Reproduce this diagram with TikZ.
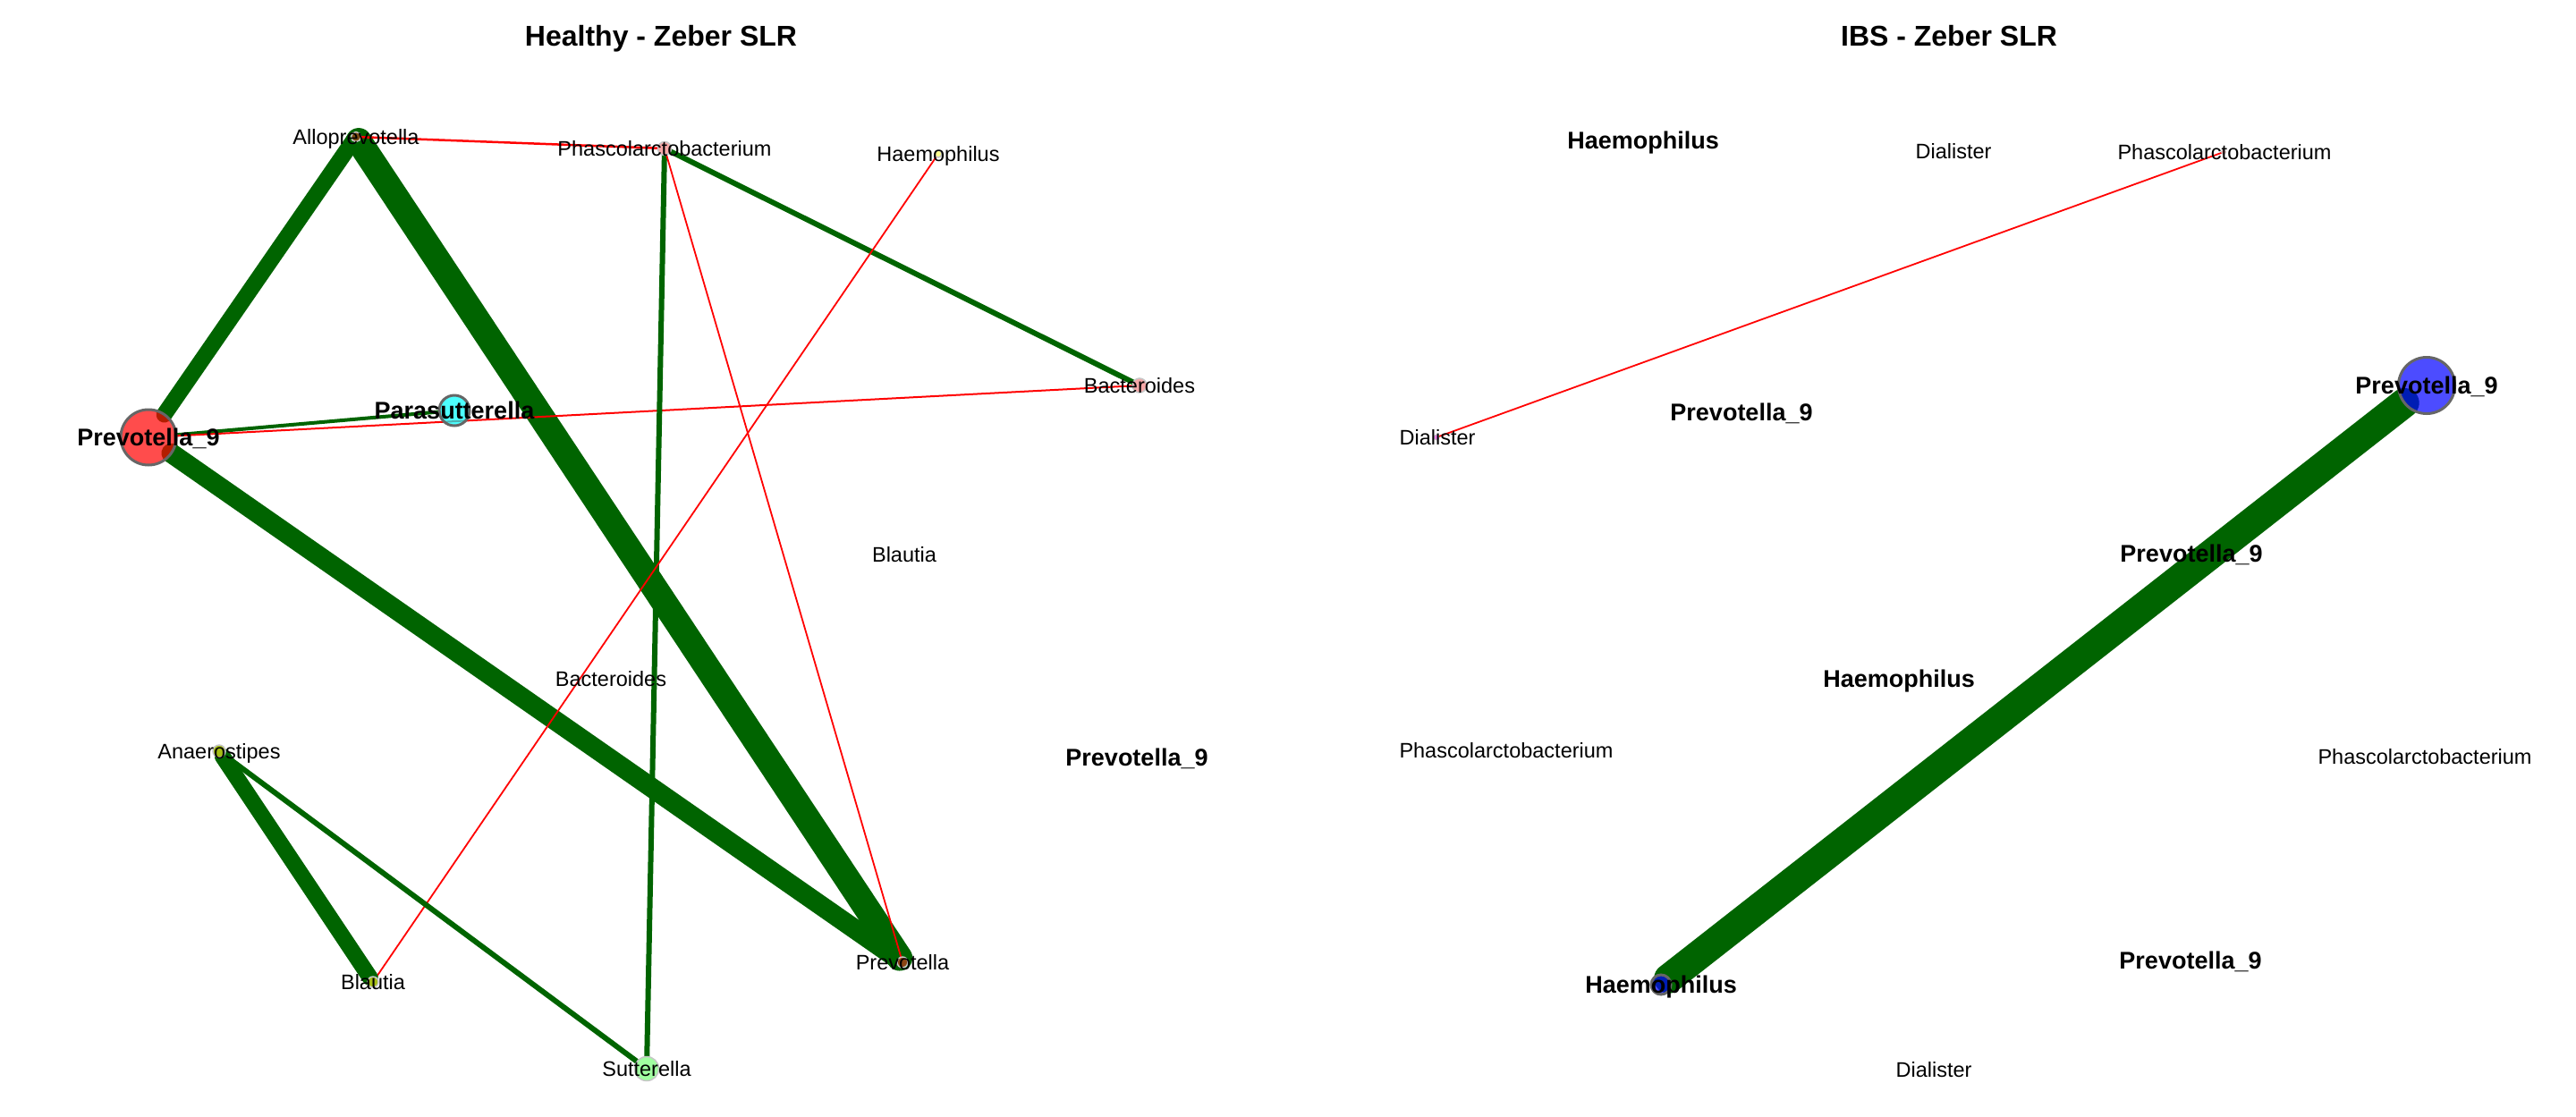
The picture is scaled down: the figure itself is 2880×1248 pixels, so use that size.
\documentclass[tikz,border=0pt]{standalone}
\usepackage{fontspec}
\setmainfont{Liberation Sans}
\pgfdeclarelayer{back}
\pgfdeclarelayer{bg}
\pgfsetlayers{back,bg,main}
\definecolor{egreen}{RGB}{0,100,0}
\definecolor{ered}{RGB}{255,0,0}
\definecolor{vred}{RGB}{255,0,0}
\definecolor{vblue}{RGB}{0,0,255}
\definecolor{vcyan}{RGB}{0,255,255}
\definecolor{vgray}{RGB}{102,102,102}
\definecolor{allo}{RGB}{122,75,18}
\definecolor{pinkv}{RGB}{247,168,168}
\definecolor{yelv}{RGB}{255,255,140}
\definecolor{olivev}{RGB}{165,190,20}
\definecolor{suttv}{RGB}{160,255,160}
\definecolor{brownv}{RGB}{139,69,19}
\definecolor{violv}{RGB}{238,130,238}
\tikzset{
  lab/.style={anchor=base, inner sep=0pt, yshift=-8.3pt, font=\fontsize{23.5}{28}\selectfont},
  blab/.style={anchor=base, inner sep=0pt, yshift=-9.7pt, font=\bfseries\fontsize{27}{32}\selectfont},
  ttl/.style={anchor=base, inner sep=0pt, font=\bfseries\fontsize{32}{38}\selectfont},
  bigv/.style={circle, inner sep=0pt, outer sep=0pt, minimum size=#1, draw=vgray, line width=3pt, fill opacity=0.7},
  smv/.style={circle, inner sep=0pt, outer sep=0pt, minimum size=#1, draw=gray!45, line width=1.5pt},
  posedge/.style={draw=egreen, line cap=round},
  negedge/.style={draw=ered, line cap=round},
}
\begin{document}
\begin{tikzpicture}[x=1pt, y=-1pt]
\begin{pgfonlayer}{back}
\fill[white] (0,0) rectangle (2880,1248);
\end{pgfonlayer}
\useasboundingbox (0,0) rectangle (2880,1248);

% titles
\node[ttl] (t1) at (739,51.7) {Healthy - Zeber SLR};
\node[ttl] (t2) at (2179,51.7) {IBS - Zeber SLR};

% ---------- left panel vertices ----------
\node[bigv=62, fill=vred] (LPrev9) at (166,489) {};
\node[bigv=34, fill=vcyan] (LPara) at (508,459) {};
\node[smv=11, fill=allo] (LAllo) at (398,153) {};
\node[smv=15, fill=pinkv] (LPhas) at (743,166) {};
\node[smv=8, fill=yelv] (LHaem) at (1049,172) {};
\node[smv=16, fill=pinkv] (LBact) at (1274,431) {};
\node[smv=14, fill=olivev] (LAnae) at (245,840) {};
\node[smv=12, fill=olivev] (LBlau) at (417,1098) {};
\node[smv=27, fill=suttv] (LSutt) at (723,1195) {};
\node[smv=12, fill=brownv] (LPrevo) at (1009,1076) {};

% ---------- right panel vertices ----------
\node[smv=5, fill=pinkv, line width=0.8pt] (RPhas) at (2486,170) {};
\node[smv=6, fill=violv, line width=0.8pt] (RDial) at (1606,489) {};
\node[bigv=63, fill=vblue] (RPrev9) at (2713,431) {};
\node[bigv=22, fill=vblue] (RHaem) at (1857,1101) {};

% ---------- edges ----------
\begin{pgfonlayer}{bg}
\draw[posedge, line width=18pt] (LPrev9) -- (LAllo);
\draw[posedge, line width=29pt] (LAllo) -- (LPrevo);
\draw[posedge, line width=22pt] (LPrev9) -- (LPrevo);
\draw[posedge, line width=4pt] (LPrev9) -- (LPara);
\draw[negedge, line width=2pt] (LPrev9) -- (LBact);
\draw[negedge, line width=2.5pt] (LAllo) -- (LPhas);
\draw[posedge, line width=6pt] (LPhas) -- (LBact);
\draw[posedge, line width=6pt] (LPhas) -- (LSutt);
\draw[negedge, line width=1.8pt] (LPhas) -- (LPrevo);
\draw[negedge, line width=1.8pt] (LHaem) -- (LBlau);
\draw[posedge, line width=18pt] (LAnae) -- (LBlau);
\draw[posedge, line width=6pt] (LAnae) -- (LSutt);
\draw[negedge, line width=1.8pt] (RDial) -- (RPhas);
\draw[posedge, line width=33pt] (RHaem) -- (RPrev9);
\end{pgfonlayer}

% ---------- left panel labels ----------
\node[lab] (LAllol) at (398,153) {Alloprevotella};
\node[lab] (LPhasl) at (743,166) {Phascolarctobacterium};
\node[lab] (LHaeml) at (1049,172) {Haemophilus};
\node[lab] (LBactl) at (1274,431) {Bacteroides};
\node[blab] (LParal) at (508,459) {Parasutterella};
\node[blab] (LPrev9l) at (166,489) {Prevotella\_9};
\node[lab] (LBlautT) at (1011,620) {Blautia};
\node[lab] (LBactM) at (683,759) {Bacteroides};
\node[blab] (LPrev9M) at (1271,847) {Prevotella\_9};
\node[lab] (LAnael) at (245,840) {Anaerostipes};
\node[lab] (LBlaul) at (417,1098) {Blautia};
\node[lab] (LPrevol) at (1009,1076) {Prevotella};
\node[lab] (LSuttl) at (723,1195) {Sutterella};

% ---------- right panel labels ----------
\node[blab] (RHaemT) at (1837,157) {Haemophilus};
\node[lab] (RDialT) at (2184,169) {Dialister};
\node[lab] (RPhasl) at (2487,170) {Phascolarctobacterium};
\node[lab] (RDiall) at (1607,489) {Dialister};
\node[blab] (RPrev9L) at (1947,461) {Prevotella\_9};
\node[blab] (RPrev9l) at (2713,431) {Prevotella\_9};
\node[blab] (RPrev9M) at (2450,619) {Prevotella\_9};
\node[blab] (RHaemM) at (2123,759) {Haemophilus};
\node[lab] (RPhasL) at (1684,839) {Phascolarctobacterium};
\node[lab] (RPhasR) at (2711,846) {Phascolarctobacterium};
\node[blab] (RHaeml) at (1857,1101) {Haemophilus};
\node[blab] (RPrev9B) at (2449,1074) {Prevotella\_9};
\node[lab] (RDialB) at (2162,1196) {Dialister};
\end{tikzpicture}
\end{document}
